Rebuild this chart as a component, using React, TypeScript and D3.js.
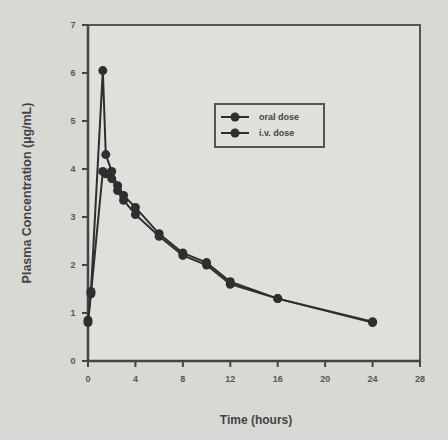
import * as d3 from 'd3';

const times = [0, 0.25, 1.25, 1.5, 2, 2.5, 3, 4, 6, 8, 10, 12, 16, 24];
const oralDose = [0.85, 1.45, 6.05, 4.3, 3.95, 3.65, 3.45, 3.2, 2.65, 2.25, 2.05, 1.65, 1.3, 0.82];
const ivDose = [0.8, 1.4, 3.95, 3.9, 3.8, 3.55, 3.35, 3.05, 2.6, 2.2, 2.0, 1.6, 1.3, 0.8];
const seriesNames = ['oral dose', 'i.v. dose'];
const xTicks = [0, 4, 8, 12, 16, 20, 24, 28];
const yTicks = [0, 1, 2, 3, 4, 5, 6, 7];

const W = 448;
const H = 440;
const margin = { top: 25, right: 28, bottom: 79, left: 88 };

export default function App() {
  const x = d3.scaleLinear().domain([0, 28]).range([margin.left, W - margin.right]);
  const y = d3.scaleLinear().domain([0, 7]).range([H - margin.bottom, margin.top]);
  const line = d3.line<[number, number]>()
    .x(d => x(d[0]))
    .y(d => y(d[1]));

  const series = [oralDose, ivDose].map(vals => times.map((t, i) => [t, vals[i]] as [number, number]));
  const ink = '#2e2e2e';
  const font = 'Liberation Sans, Arial, sans-serif';

  return (
    <svg width={W} height={H} style={{ position: 'fixed', left: 0, top: 0, background: '#d8d8d5' }}>
      <rect x={0} y={0} width={W} height={H} fill="#d8d8d5" />
      <rect x={x(0)} y={y(7)} width={x(28) - x(0)} height={y(0) - y(7)} fill="#dfdfdc" stroke="#555" strokeWidth={2} />
      <line x1={x(0)} x2={x(0)} y1={y(7)} y2={y(0)} stroke="#444" strokeWidth={2.5} />
      <line x1={x(0)} x2={x(28)} y1={y(0)} y2={y(0)} stroke="#444" strokeWidth={2.5} />

      {yTicks.map(t => (
        <g key={'y' + t}>
          <line x1={x(0) - 6} x2={x(0)} y1={y(t)} y2={y(t)} stroke="#444" strokeWidth={2} />
          <text x={x(0) - 15} y={y(t)} dy="0.35em" textAnchor="middle" fontSize={9} fontWeight="bold" fontFamily={font} fill="#555">{t}</text>
        </g>
      ))}
      {xTicks.map(t => (
        <g key={'x' + t}>
          <line x1={x(t)} x2={x(t)} y1={y(0)} y2={y(0) + 6} stroke="#444" strokeWidth={2} />
          <text x={x(t)} y={y(0) + 21} textAnchor="middle" fontSize={9} fontWeight="bold" fontFamily={font} fill="#555">{t}</text>
        </g>
      ))}

      <text x={256} y={424} textAnchor="middle" fontSize={12} fontWeight="bold" fontFamily={font} fill="#444">Time (hours)</text>
      <text transform={`translate(31,${(y(0) + y(7)) / 2}) rotate(-90)`} textAnchor="middle" fontSize={12.5} fontWeight="bold" fontFamily={font} fill="#444">Plasma Concentration (µg/mL)</text>

      {series.map((s, si) => (
        <g key={si}>
          <path d={line(s) ?? ''} fill="none" stroke={ink} strokeWidth={2} />
          {s.map((d, i) => (
            <circle key={i} cx={x(d[0])} cy={y(d[1])} r={4.5} fill={ink} />
          ))}
        </g>
      ))}

      <g transform="translate(215,104)">
        <rect x={0} y={0} width={109} height={43} fill="#dfdfdc" stroke="#555" strokeWidth={2} />
        {seriesNames.map((n, i) => (
          <g key={n} transform={`translate(0,${13 + i * 16})`}>
            <line x1={6} x2={34} y1={0} y2={0} stroke={ink} strokeWidth={2} />
            <circle cx={20} cy={0} r={4.5} fill={ink} />
            <text x={44} y={0} dy="0.35em" fontSize={9} fontWeight="bold" fontFamily={font} fill="#444">{n}</text>
          </g>
        ))}
      </g>
    </svg>
  );
}
